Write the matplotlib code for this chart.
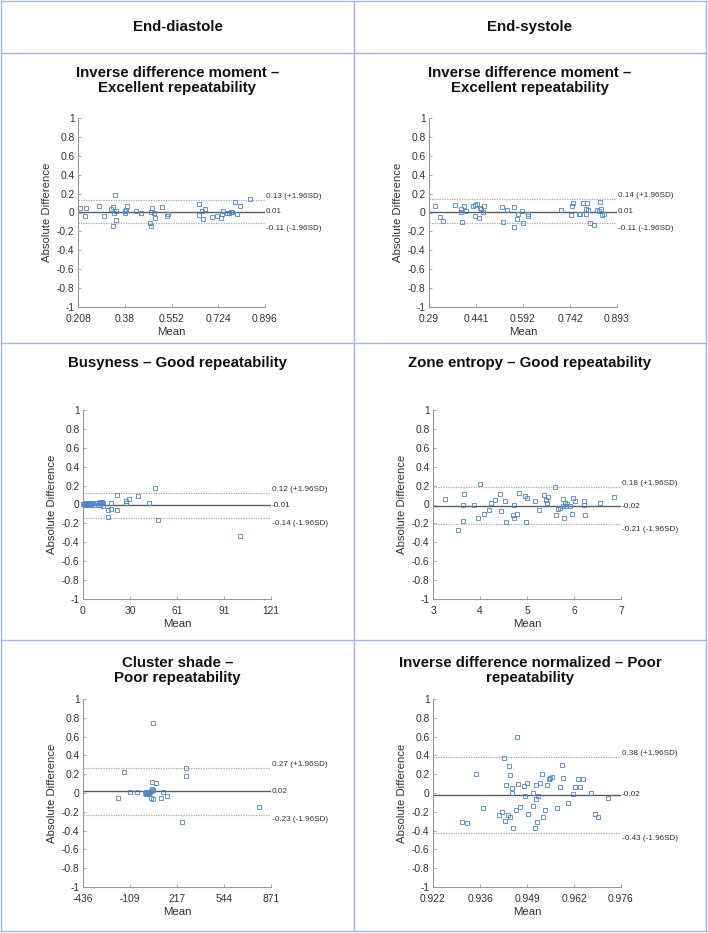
import matplotlib
matplotlib.use("Agg")
import matplotlib.pyplot as plt
from matplotlib.lines import Line2D
import matplotlib.transforms as mtransforms

plt.rcParams['font.family'] = ['Liberation Sans', 'DejaVu Sans']
plt.rcParams['axes.unicode_minus'] = False

W, H = 708, 933

# ---------------- data ----------------
col_headers = ["End-diastole", "End-systole"]

titles = [
    "Inverse difference moment –\nExcellent repeatability",
    "Inverse difference moment –\nExcellent repeatability",
    "Busyness – Good repeatability",
    "Zone entropy – Good repeatability",
    "Cluster shade –\nPoor repeatability",
    "Inverse difference normalized – Poor\nrepeatability",
]

# 1: End-diastole, inverse difference moment
idm_ed_mean = [0.217, 0.239, 0.233, 0.287, 0.305, 0.330, 0.337, 0.343, 0.337, 0.347,
               0.342, 0.347, 0.380, 0.382, 0.388, 0.386, 0.420, 0.439, 0.472, 0.478,
               0.478, 0.482, 0.488, 0.492, 0.517, 0.536, 0.539, 0.653, 0.653, 0.663,
               0.669, 0.676, 0.702, 0.718, 0.734, 0.736, 0.740, 0.755, 0.765, 0.771,
               0.776, 0.784, 0.794, 0.804, 0.842]
idm_ed_diff = [0.046, 0.046, -0.032, 0.070, -0.035, 0.039, 0.063, 0.180, -0.147, -0.077,
               0.000, 0.020, 0.018, -0.010, 0.070, 0.025, 0.014, -0.010, -0.109, -0.144,
               0.007, 0.046, -0.010, -0.053, 0.060, -0.032, -0.021, 0.091, -0.025, 0.014,
               -0.074, 0.032, -0.046, -0.032, -0.053, -0.018, 0.014, -0.007, -0.004, 0.010,
               0.004, 0.116, -0.014, 0.067, 0.144]

# 2: End-systole, inverse difference moment
idm_es_mean = [0.310, 0.326, 0.335, 0.372, 0.393, 0.394, 0.395, 0.401, 0.408, 0.431,
               0.436, 0.444, 0.439, 0.449, 0.453, 0.457, 0.464, 0.468, 0.523, 0.526,
               0.539, 0.564, 0.564, 0.572, 0.574, 0.588, 0.593, 0.606, 0.607, 0.713,
               0.744, 0.748, 0.753, 0.772, 0.775, 0.784, 0.795, 0.797, 0.795, 0.799,
               0.806, 0.819, 0.829, 0.836, 0.840, 0.843, 0.844, 0.852]
idm_es_diff = [0.071, -0.046, -0.089, 0.078, 0.032, 0.007, -0.096, 0.067, 0.021, 0.067,
               0.078, 0.085, -0.035, -0.057, 0.050, 0.032, 0.004, 0.064, 0.053, -0.096,
               0.025, 0.053, -0.149, -0.074, -0.018, 0.018, -0.106, -0.018, -0.032, 0.025,
               -0.025, 0.064, 0.103, -0.021, -0.018, 0.096, -0.018, 0.096, 0.035, 0.025,
               -0.106, -0.135, 0.028, 0.018, 0.106, 0.035, -0.028, -0.014]

# 3: End-diastole, busyness
bus_mean = [0.0, 0.6, 1.3, 2.2, 3.2, 4.3, 5.4, 6.5, 7.1, 8.6,
            9.7, 10.8, 11.8, 12.5, 12.9, 17.9, 17.9, 15.9, 16.1, 22.0,
            22.0, 27.6, 27.6, 29.7, 35.7, 42.2, 46.1, 48.4, 100.8, 1.0,
            2.6, 3.9, 5.0, 7.5, 10.3, 11.2, 12.9]
bus_diff = [0.007, 0.007, 0.000, 0.007, 0.011, 0.014, 0.007, 0.021, -0.004, 0.014,
            -0.007, 0.028, 0.014, 0.025, -0.018, 0.018, -0.046, -0.056, -0.130, -0.053,
            0.105, 0.035, 0.014, 0.060, 0.088, 0.018, 0.179, -0.168, -0.333, 0.011,
            -0.004, 0.004, -0.007, 0.011, 0.011, 0.000, 0.018]

# 4: End-systole, zone entropy
ze_mean = [3.256, 3.534, 3.655, 3.641, 3.641, 3.868, 3.996, 3.968, 4.075, 4.189,
           4.231, 4.324, 4.431, 4.452, 4.523, 4.552, 4.722, 4.694, 4.715, 4.779,
           4.836, 4.964, 5.007, 4.986, 5.178, 5.263, 5.363, 5.399, 5.441, 5.434,
           5.591, 5.619, 5.662, 5.705, 5.762, 5.762, 5.790, 5.819, 5.833, 5.861,
           5.918, 5.961, 5.982, 6.018, 6.203, 6.217, 6.238, 6.544, 6.858]
ze_diff = [0.060, -0.270, 0.109, -0.007, -0.175, -0.007, 0.221, -0.144, -0.102, -0.053,
           0.018, 0.046, 0.109, -0.070, 0.035, -0.186, -0.004, -0.116, -0.140, -0.098,
           0.123, 0.095, 0.074, -0.186, 0.042, -0.063, 0.098, 0.049, 0.084, 0.014,
           0.186, -0.116, -0.046, -0.035, 0.060, -0.018, -0.144, 0.021, -0.018, 0.004,
           -0.018, -0.102, 0.067, 0.039, 0.039, 0.000, -0.109, 0.011, 0.081]

# 5: End-diastole, cluster shade
cs_mean = [47.7, -150, -192, -110, -64, -6, 1, 6, 10, 17,
           24, 29, 41, 71, 34, 43, 52, 34, 48, 104,
           122, 150, 252, 278, 278, 785, 3, 13, 20]
cs_diff = [0.744, 0.224, -0.050, 0.014, 0.007, 0.000, -0.007, 0.004, -0.004, 0.007,
           0.000, 0.014, 0.117, 0.110, 0.025, 0.039, 0.032, -0.050, -0.060, -0.050,
           0.014, -0.028, -0.306, 0.263, 0.178, -0.146, 0.011, -0.011, 0.004]

# 6: End-systole, inverse difference normalized
idn_mean = [0.9302, 0.9317, 0.9343, 0.9365, 0.9410, 0.9418, 0.9425, 0.9429, 0.9427, 0.9435,
            0.9437, 0.9440, 0.9442, 0.9447, 0.9447, 0.9451, 0.9458, 0.9460, 0.9463, 0.9469,
            0.9480, 0.9483, 0.9489, 0.9492, 0.9506, 0.9508, 0.9512, 0.9515, 0.9517, 0.9519,
            0.9523, 0.9527, 0.9532, 0.9536, 0.9542, 0.9547, 0.9553, 0.9556, 0.9563, 0.9576,
            0.9585, 0.9591, 0.9592, 0.9607, 0.9622, 0.9627, 0.9637, 0.9643, 0.9650, 0.9675,
            0.9684, 0.9694, 0.9723]
idn_diff = [-0.306, -0.324, 0.206, -0.164, -0.231, -0.199, 0.370, 0.082, -0.299, -0.235,
            0.292, 0.192, -0.256, 0.053, 0.004, -0.374, -0.181, 0.591, 0.093, -0.149,
            0.078, -0.028, 0.103, -0.228, -0.004, -0.135, -0.374, -0.068, 0.089, -0.310,
            -0.028, 0.103, 0.206, -0.256, -0.181, 0.089, 0.146, 0.157, 0.167, -0.160,
            0.068, 0.299, 0.157, -0.107, -0.011, 0.060, 0.149, 0.064, 0.149, 0.004,
            -0.224, -0.253, -0.050]

means_x = [idm_ed_mean, idm_es_mean, bus_mean, ze_mean, cs_mean, idn_mean]
diffs_y = [idm_ed_diff, idm_es_diff, bus_diff, ze_diff, cs_diff, idn_diff]

bias = [0.01, 0.01, -0.01, -0.02, 0.02, -0.02]
upper_loa = [0.13, 0.14, 0.12, 0.18, 0.27, 0.38]
lower_loa = [-0.11, -0.11, -0.14, -0.21, -0.23, -0.43]

xtick_labels = [
    ["0.208", "0.38", "0.552", "0.724", "0.896"],
    ["0.29", "0.441", "0.592", "0.742", "0.893"],
    ["0", "30", "61", "91", "121"],
    ["3", "4", "5", "6", "7"],
    ["-436", "-109", "217", "544", "871"],
    ["0.922", "0.936", "0.949", "0.962", "0.976"],
]
ytick_vals = [1, 0.8, 0.6, 0.4, 0.2, 0, -0.2, -0.4, -0.6, -0.8, -1]
ytick_labels = ["1", "0.8", "0.6", "0.4", "0.2", "0", "-0.2", "-0.4", "-0.6", "-0.8", "-1"]

# ---------------- layout (pixels) ----------------
axes_px = [  # x0, x1, ytop, ybottom
    (78, 265, 118, 307),
    (429, 617, 118, 307),
    (83, 271, 410, 599),
    (433, 621, 410, 599),
    (83, 271, 699, 887),
    (433, 621, 699, 887),
]
title_y = [80.5, 80.5, 363, 363, 670.5, 670.5]

fig = plt.figure(figsize=(W / 100, H / 100), dpi=100)
fig.patch.set_facecolor("white")

border_c = "#a3b6dc"
def hline(y, x0=1, x1=706):
    fig.add_artist(Line2D([x0 / W, x1 / W], [1 - y / H, 1 - y / H],
                          transform=fig.transFigure, color=border_c, lw=1.0))
def vline(x, y0=1, y1=931):
    fig.add_artist(Line2D([x / W, x / W], [1 - y0 / H, 1 - y1 / H],
                          transform=fig.transFigure, color=border_c, lw=1.0))

for y in (1, 53, 343, 640, 931):
    hline(y)
for x in (1, 354, 706):
    vline(x)

for i, h in enumerate(col_headers):
    cx = 177.5 if i == 0 else 530
    fig.text(cx / W, 1 - 27 / H, h, ha="center", va="center",
             fontsize=10.8, fontweight="bold", color="#111111")

marker_c = "#4d86c6"
spine_c = "#9a9a9a"
text_c = "#333333"

for k in range(6):
    x0, x1, yt, yb = axes_px[k]
    ax = fig.add_axes([x0 / W, 1 - yb / H, (x1 - x0) / W, (yb - yt) / H])
    labs = xtick_labels[k]
    lo, hi = float(labs[0]), float(labs[-1])
    xt = [lo + (hi - lo) * j / 4 for j in range(5)]
    ax.set_xlim(lo, hi)
    ax.set_ylim(-1, 1)
    ax.set_xticks(xt)
    ax.set_xticklabels(labs)
    ax.set_yticks(ytick_vals)
    ax.set_yticklabels(ytick_labels)
    for s in ("top", "right"):
        ax.spines[s].set_visible(False)
    for s in ("left", "bottom"):
        ax.spines[s].set_color(spine_c)
        ax.spines[s].set_linewidth(0.8)
    ax.tick_params(direction="in", length=2.5, width=0.6, color=spine_c,
                   labelsize=7.4, labelcolor=text_c)
    ax.tick_params(axis="y", pad=2.5)
    ax.tick_params(axis="x", pad=4.8)
    ax.patch.set_alpha(0)

    ax.axhline(upper_loa[k], color="#a8a8a8", lw=0.9, ls=(0, (1, 1)), zorder=1)
    ax.axhline(lower_loa[k], color="#a8a8a8", lw=0.9, ls=(0, (1, 1)), zorder=1)
    ax.axhline(bias[k], color="#5a5a5a", lw=1.0, zorder=1)

    ax.plot(means_x[k], diffs_y[k], ls="none", marker="s", ms=3.1,
            mfc="none", mec=marker_c, mew=0.6, zorder=3, clip_on=False)

    trans = mtransforms.blended_transform_factory(ax.transAxes, ax.transData)
    ax.annotate(f"{upper_loa[k]:.2f} (+1.96SD)", xy=(1, upper_loa[k]), xycoords=trans,
                xytext=(0.5, 2.6), textcoords="offset points", ha="left", va="center",
                fontsize=5.9, color=text_c)
    ax.annotate(f"{bias[k]:.2f}", xy=(1, bias[k]), xycoords=trans,
                xytext=(0.5, 0), textcoords="offset points", ha="left", va="center",
                fontsize=5.9, color=text_c)
    ax.annotate(f"{lower_loa[k]:.2f} (-1.96SD)", xy=(1, lower_loa[k]), xycoords=trans,
                xytext=(0.5, -3.8), textcoords="offset points", ha="left", va="center",
                fontsize=5.9, color=text_c)

    hpx = yb - yt
    wpx = x1 - x0
    ax.text(0.5, -25 / hpx, "Mean", transform=ax.transAxes, ha="center", va="center",
            fontsize=8.2, color=text_c)
    ax.text(-31 / wpx, 0.5, "Absolute Difference", transform=ax.transAxes, rotation=90,
            ha="center", va="center", fontsize=8.2, color=text_c)

    cx = 177.5 if k % 2 == 0 else 530
    fig.text(cx / W, 1 - title_y[k] / H, titles[k], ha="center", va="center",
             fontsize=10.8, fontweight="bold", color="#111111", linespacing=1.1)

fig.savefig("out.png", dpi=100, facecolor="white")
